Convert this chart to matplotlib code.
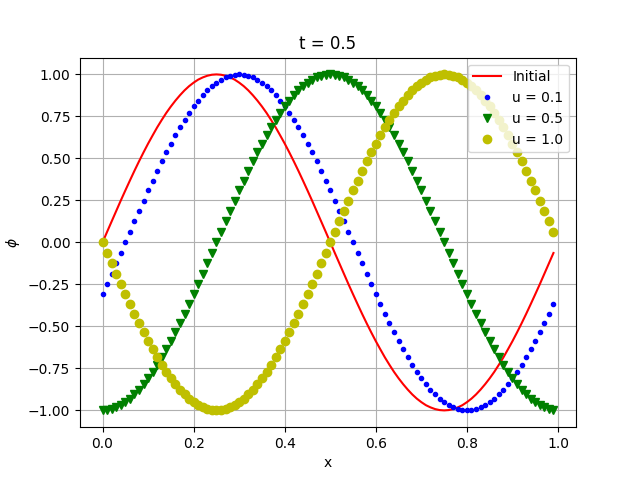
import matplotlib
matplotlib.use("Agg")
import matplotlib.pyplot as plt

# x nodes (0.00 ... 0.99)
x = [0.00, 0.01, 0.02, 0.03, 0.04, 0.05, 0.06, 0.07, 0.08, 0.09,
     0.10, 0.11, 0.12, 0.13, 0.14, 0.15, 0.16, 0.17, 0.18, 0.19,
     0.20, 0.21, 0.22, 0.23, 0.24, 0.25, 0.26, 0.27, 0.28, 0.29,
     0.30, 0.31, 0.32, 0.33, 0.34, 0.35, 0.36, 0.37, 0.38, 0.39,
     0.40, 0.41, 0.42, 0.43, 0.44, 0.45, 0.46, 0.47, 0.48, 0.49,
     0.50, 0.51, 0.52, 0.53, 0.54, 0.55, 0.56, 0.57, 0.58, 0.59,
     0.60, 0.61, 0.62, 0.63, 0.64, 0.65, 0.66, 0.67, 0.68, 0.69,
     0.70, 0.71, 0.72, 0.73, 0.74, 0.75, 0.76, 0.77, 0.78, 0.79,
     0.80, 0.81, 0.82, 0.83, 0.84, 0.85, 0.86, 0.87, 0.88, 0.89,
     0.90, 0.91, 0.92, 0.93, 0.94, 0.95, 0.96, 0.97, 0.98, 0.99]

phi_initial = [0.000, 0.063, 0.125, 0.187, 0.249, 0.309, 0.368, 0.426, 0.482, 0.536,
               0.588, 0.637, 0.685, 0.729, 0.771, 0.809, 0.844, 0.876, 0.905, 0.930,
               0.951, 0.969, 0.982, 0.992, 0.998, 1.000, 0.998, 0.992, 0.982, 0.969,
               0.951, 0.930, 0.905, 0.876, 0.844, 0.809, 0.771, 0.729, 0.685, 0.637,
               0.588, 0.536, 0.482, 0.426, 0.368, 0.309, 0.249, 0.187, 0.125, 0.063,
               0.000, -0.063, -0.125, -0.187, -0.249, -0.309, -0.368, -0.426, -0.482, -0.536,
               -0.588, -0.637, -0.685, -0.729, -0.771, -0.809, -0.844, -0.876, -0.905, -0.930,
               -0.951, -0.969, -0.982, -0.992, -0.998, -1.000, -0.998, -0.992, -0.982, -0.969,
               -0.951, -0.930, -0.905, -0.876, -0.844, -0.809, -0.771, -0.729, -0.685, -0.637,
               -0.588, -0.536, -0.482, -0.426, -0.368, -0.309, -0.249, -0.187, -0.125, -0.063]

phi_u01 = [-0.309, -0.249, -0.187, -0.125, -0.063,
           0.000, 0.063, 0.125, 0.187, 0.249, 0.309, 0.368, 0.426, 0.482, 0.536,
           0.588, 0.637, 0.685, 0.729, 0.771, 0.809, 0.844, 0.876, 0.905, 0.930,
           0.951, 0.969, 0.982, 0.992, 0.998, 1.000, 0.998, 0.992, 0.982, 0.969,
           0.951, 0.930, 0.905, 0.876, 0.844, 0.809, 0.771, 0.729, 0.685, 0.637,
           0.588, 0.536, 0.482, 0.426, 0.368, 0.309, 0.249, 0.187, 0.125, 0.063,
           0.000, -0.063, -0.125, -0.187, -0.249, -0.309, -0.368, -0.426, -0.482, -0.536,
           -0.588, -0.637, -0.685, -0.729, -0.771, -0.809, -0.844, -0.876, -0.905, -0.930,
           -0.951, -0.969, -0.982, -0.992, -0.998, -1.000, -0.998, -0.992, -0.982, -0.969,
           -0.951, -0.930, -0.905, -0.876, -0.844, -0.809, -0.771, -0.729, -0.685, -0.637,
           -0.588, -0.536, -0.482, -0.426, -0.368]

phi_u05 = [-1.000, -0.998, -0.992, -0.982, -0.969, -0.951, -0.930, -0.905, -0.876, -0.844,
           -0.809, -0.771, -0.729, -0.685, -0.637, -0.588, -0.536, -0.482, -0.426, -0.368,
           -0.309, -0.249, -0.187, -0.125, -0.063,
           0.000, 0.063, 0.125, 0.187, 0.249, 0.309, 0.368, 0.426, 0.482, 0.536,
           0.588, 0.637, 0.685, 0.729, 0.771, 0.809, 0.844, 0.876, 0.905, 0.930,
           0.951, 0.969, 0.982, 0.992, 0.998, 1.000, 0.998, 0.992, 0.982, 0.969,
           0.951, 0.930, 0.905, 0.876, 0.844, 0.809, 0.771, 0.729, 0.685, 0.637,
           0.588, 0.536, 0.482, 0.426, 0.368, 0.309, 0.249, 0.187, 0.125, 0.063,
           0.000, -0.063, -0.125, -0.187, -0.249, -0.309, -0.368, -0.426, -0.482, -0.536,
           -0.588, -0.637, -0.685, -0.729, -0.771, -0.809, -0.844, -0.876, -0.905, -0.930,
           -0.951, -0.969, -0.982, -0.992, -0.998]

phi_u10 = [0.000, -0.063, -0.125, -0.187, -0.249, -0.309, -0.368, -0.426, -0.482, -0.536,
           -0.588, -0.637, -0.685, -0.729, -0.771, -0.809, -0.844, -0.876, -0.905, -0.930,
           -0.951, -0.969, -0.982, -0.992, -0.998, -1.000, -0.998, -0.992, -0.982, -0.969,
           -0.951, -0.930, -0.905, -0.876, -0.844, -0.809, -0.771, -0.729, -0.685, -0.637,
           -0.588, -0.536, -0.482, -0.426, -0.368, -0.309, -0.249, -0.187, -0.125, -0.063,
           0.000, 0.063, 0.125, 0.187, 0.249, 0.309, 0.368, 0.426, 0.482, 0.536,
           0.588, 0.637, 0.685, 0.729, 0.771, 0.809, 0.844, 0.876, 0.905, 0.930,
           0.951, 0.969, 0.982, 0.992, 0.998, 1.000, 0.998, 0.992, 0.982, 0.969,
           0.951, 0.930, 0.905, 0.876, 0.844, 0.809, 0.771, 0.729, 0.685, 0.637,
           0.588, 0.536, 0.482, 0.426, 0.368, 0.309, 0.249, 0.187, 0.125, 0.063]

plt.figure(figsize=(6.4, 4.8), dpi=100)
plt.plot(x, phi_initial, 'r-', label='Initial')
plt.plot(x, phi_u01, 'b.', label='u = 0.1')
plt.plot(x, phi_u05, 'gv', label='u = 0.5')
plt.plot(x, phi_u10, 'yo', label='u = 1.0')
plt.grid()
plt.legend(loc='upper right')
plt.xlabel('x')
plt.ylabel(r'$\phi$')
plt.title('t = 0.5')
plt.savefig('out.png')
